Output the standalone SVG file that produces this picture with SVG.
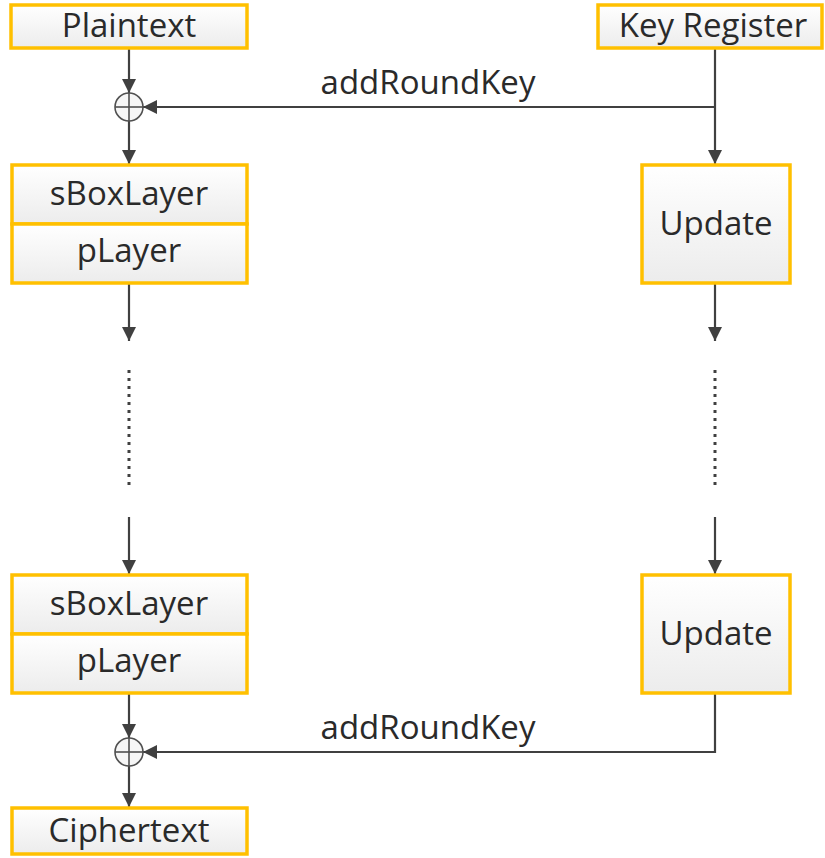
<svg xmlns="http://www.w3.org/2000/svg" width="825" height="858" viewBox="0 0 825 858">
<defs>
<linearGradient id="g" x1="0" y1="0" x2="0" y2="1">
<stop offset="0" stop-color="#ffffff"/>
<stop offset="1" stop-color="#ececec"/>
</linearGradient>
<marker id="ah" viewBox="0 0 14 14" refX="14" refY="7" markerWidth="14" markerHeight="14" markerUnits="userSpaceOnUse" orient="auto">
<path d="M0,0 L14,7 L0,14 Z" fill="#404040"/>
</marker>
<style>
.box{fill:url(#g);stroke:#FFC000;stroke-width:3.5}
.t{font-family:"Open Sans","Noto Sans",sans-serif;font-size:33px;fill:#2a2a2a;text-anchor:middle}
.c{fill:none;stroke:#404040;stroke-width:2.2}
.d{fill:none;stroke:#404040;stroke-width:3;stroke-dasharray:3 5}
.x{fill:#f6f6f6;stroke:#505050;stroke-width:1.6}
</style>
</defs>
<g id="connectors">
<line class="c" x1="129" y1="49" x2="129" y2="93" marker-end="url(#ah)"/>
<line class="c" x1="129" y1="121" x2="129" y2="164" marker-end="url(#ah)"/>
<line class="c" x1="715" y1="49" x2="715" y2="164" marker-end="url(#ah)"/>
<polyline class="c" points="715,107 143,107" marker-end="url(#ah)"/>
<line class="c" x1="129" y1="284" x2="129" y2="341" marker-end="url(#ah)"/>
<line class="d" x1="129" y1="370" x2="129" y2="487"/>
<line class="c" x1="129" y1="517" x2="129" y2="574" marker-end="url(#ah)"/>
<line class="c" x1="715" y1="284" x2="715" y2="341" marker-end="url(#ah)"/>
<line class="d" x1="715" y1="370" x2="715" y2="487"/>
<line class="c" x1="715" y1="517" x2="715" y2="574" marker-end="url(#ah)"/>
<line class="c" x1="129" y1="693" x2="129" y2="738" marker-end="url(#ah)"/>
<line class="c" x1="129" y1="766" x2="129" y2="807" marker-end="url(#ah)"/>
<polyline class="c" points="715,693 715,752 143,752" marker-end="url(#ah)"/>
<text class="t" x="428" y="94">addRoundKey</text>
<text class="t" x="428" y="739">addRoundKey</text>
</g>
<g id="xor1">
<circle class="x" cx="129" cy="107" r="14"/>
<line x1="115" y1="107" x2="143" y2="107" stroke="#505050" stroke-width="1.6"/>
<line x1="129" y1="93" x2="129" y2="121" stroke="#505050" stroke-width="1.6"/>
</g>
<g id="xor2">
<circle class="x" cx="129" cy="752" r="14"/>
<line x1="115" y1="752" x2="143" y2="752" stroke="#505050" stroke-width="1.6"/>
<line x1="129" y1="738" x2="129" y2="766" stroke="#505050" stroke-width="1.6"/>
</g>
<g id="plaintext">
<rect class="box" x="11" y="5" width="236" height="43"/>
<text class="t" x="129" y="37">Plaintext</text>
</g>
<g id="keyregister">
<rect class="box" x="598" y="5" width="224" height="43"/>
<text class="t" x="713" y="37">Key Register</text>
</g>
<g id="sbox1">
<rect class="box" x="12" y="165" width="235" height="59"/>
<text class="t" x="129" y="205">sBoxLayer</text>
</g>
<g id="player1">
<rect class="box" x="12" y="224" width="235" height="59"/>
<text class="t" x="129" y="262">pLayer</text>
</g>
<g id="update1">
<rect class="box" x="642" y="165" width="148" height="118"/>
<text class="t" x="716" y="235">Update</text>
</g>
<g id="sbox2">
<rect class="box" x="12" y="575" width="235" height="59"/>
<text class="t" x="129" y="615">sBoxLayer</text>
</g>
<g id="player2">
<rect class="box" x="12" y="634" width="235" height="59"/>
<text class="t" x="129" y="672">pLayer</text>
</g>
<g id="update2">
<rect class="box" x="642" y="575" width="148" height="118"/>
<text class="t" x="716" y="645">Update</text>
</g>
<g id="ciphertext">
<rect class="box" x="12" y="808" width="235" height="46"/>
<text class="t" x="129" y="842">Ciphertext</text>
</g>
</svg>
